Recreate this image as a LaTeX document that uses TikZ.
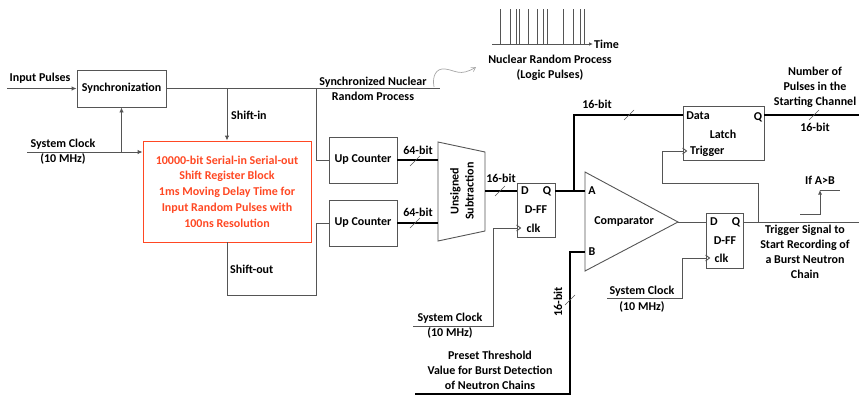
\documentclass[tikz,border=0pt]{standalone}
\usepackage{fontspec}
\setmainfont{Carlito}
\usetikzlibrary{arrows.meta,calc}
\definecolor{ln}{RGB}{85,85,85}
\definecolor{srred}{RGB}{255,72,35}
\begin{document}
\begin{tikzpicture}[x=1pt,y=-1pt,
 every node/.style={font=\bfseries\fontsize{12}{15}\selectfont, inner sep=0pt, text=black},
 blk/.style={draw=ln, line width=0.9pt, inner sep=0pt},
 wire/.style={draw=ln, line width=0.9pt},
 bus/.style={draw=black, line width=2.6pt, line join=miter},
 arr/.style={-{Latex[length=5pt,width=4.5pt]}},
 slash/.style={draw=ln, line width=0.6pt},
 lbl/.style={align=center}
]
\useasboundingbox (0,0) rectangle (859,397);

% boxes
\node[blk, minimum width=89pt, minimum height=37pt] (sync) at (121.5,88.5) {Synchronization};
\node[blk, draw=srred, text=srred, minimum width=168pt, minimum height=101pt, align=center,
  font=\bfseries\fontsize{12}{15.75}\selectfont] (sr) at (227,191.5)
  {10000-bit Serial-in Serial-out\\Shift Register Block\\1ms Moving Delay Time for\\Input Random Pulses with\\100ns Resolution};
\node[blk, minimum width=68pt, minimum height=46pt] (uc1) at (363,160) {Up Counter};
\node[blk, minimum width=68pt, minimum height=46pt] (uc2) at (363,223) {Up Counter};

% subtraction trapezoid
\coordinate (s1) at (438,142);
\coordinate (s2) at (485,152);
\coordinate (s3) at (485,231);
\coordinate (s4) at (438,241);
\draw[wire] (s1)--(s2)--(s3)--(s4)--cycle;
\node[rotate=90, lbl] (subt) at (462,191) {Unsigned\\Subtraction};
\coordinate (subout) at (485,191);

% D-FF 1
\node[blk, minimum width=38pt, minimum height=54pt] (ff1) at (536,210) {};
\node (ff1d) at (525,191) {D};
\node (ff1q) at (547,191) {Q};
\node (ff1n) at (536,210) {D-FF};
\node (ff1c) at (533.5,228) {clk};
\coordinate (ff1clk) at ($(ff1.west)+(0,18)$);
\draw[wire] ($(ff1clk)+(0,-3)$) -- ($(ff1clk)+(4,0)$) -- ($(ff1clk)+(0,3)$);

% comparator
\coordinate (c1) at (585,172);
\coordinate (c2) at (678,222);
\coordinate (c3) at (585,271);
\draw[wire] (c1)--(c2)--(c3)--cycle;
\node (cmp) at (624,222) {Comparator};
\node (ca) at (592,191) {A};
\node (cb) at (592,252) {B};
\coordinate (ina) at (585,191);
\coordinate (inb) at (585,252);

% D-FF 2
\node[blk, minimum width=37pt, minimum height=55pt] (ff2) at (724.5,240.5) {};
\node (ff2d) at (714,222) {D};
\node (ff2q) at (736,222) {Q};
\node (ff2n) at (725,241) {D-FF};
\node (ff2c) at (721.5,258) {clk};
\coordinate (ff2clk) at ($(ff2.west)+(0,17.5)$);
\draw[wire] ($(ff2clk)+(0,-3)$) -- ($(ff2clk)+(4,0)$) -- ($(ff2clk)+(0,3)$);

% Latch
\node[blk, minimum width=81pt, minimum height=54pt] (latch) at (723.5,133) {};
\node (ld) at (698,116) {Data};
\node (lq) at (758,117) {Q};
\node (ll) at (723,134) {Latch};
\node[anchor=west] (lt) at (690,151) {Trigger};
\coordinate (ltrig) at ($(latch.west)+(0,18)$);
\draw[wire] ($(ltrig)+(0,-3)$) -- ($(ltrig)+(4,0)$) -- ($(ltrig)+(0,3)$);

% coordinates for free ends / junctions
\coordinate (inp) at (7,88.5);
\coordinate (clk) at (27,152);
\coordinate (clkbr) at (121.5,152);
\coordinate (syncend) at (440,88.5);
\coordinate (shin) at (227,88.5);
\coordinate (ucbr) at (316,88.5);
\coordinate (sob) at (227,295);
\coordinate (qj) at (574,191);
\coordinate (qout) at (859,222);
\coordinate (trj) at (758,222);
\coordinate (lqout) at (859,115);
\coordinate (thr) at (415,394);
\coordinate (ck1) at (413,326);
\coordinate (ck2) at (607,298);

% wires
\draw[wire, arr] (inp) -- (sync.west);
\draw[wire] (sync.east) -- (syncend);
\draw[wire, arr] (shin) -- (sr.north);
\draw[wire, arr] (clk) -- (clk -| sr.west);
\draw[wire, arr] (clkbr) -- (sync.south);
\draw[wire] (ucbr) |- (uc1.west);
\draw[wire] (sr.south) -- (sob) -| (316,223) -- (uc2.west);
\draw[wire] (ff1clk) -- (493,228) -- (493,326) -- (ck1);
\draw[wire] (c2) -- (c2 -| ff2.west);
\draw[wire] (ff2clk) -- (682,258) -- (682,298) -- (ck2);
\draw[wire] (ff2.east |- qout) -- (qout);
\draw[wire] (trj) -- (758,183) -- (662,183) -- (662,151) -- (ltrig);

% buses
\draw[bus] (uc1.east) -- (uc1.east -| s1);
\draw[bus] (uc2.east) -- (uc2.east -| s1);
\draw[bus] (subout) -- (subout -| ff1.west);
\draw[bus] (ff1.east |- ina) -- (ina);
\draw[bus] (qj) -- (574,115) -- (latch.west |- 0,115);
\draw[bus] (latch.east |- lqout) -- (lqout);
\draw[bus] (thr) -- (570,394) -- (570,252) -- (inb);

% slashes
\foreach \p in {(415,161),(415,223),(500,191),(629,115),(814,115),(570,300)}
  \draw[slash] \p ++(-5,5) -- ++(10,-10);

% labels
\node (tinp) at (40,78) {Input Pulses};
\node (tclk) at (63,144) {System Clock};
\node (tclkf) at (63,159) {(10 MHz)};
\node[anchor=west] (tshin) at (231,115) {Shift-in};
\node[anchor=west] (tshout) at (230,269) {Shift-out};
\node[lbl] (tsnrp) at (373,88.5) {Synchronized Nuclear\\Random Process};
\node (t64a) at (418,150) {64-bit};
\node (t64b) at (418,212) {64-bit};
\node (t16a) at (501,178) {16-bit};
\node (t16b) at (597,104) {16-bit};
\node[lbl] (tnum) at (815,87) {Number of\\Pulses in the\\Starting Channel};
\node (t16c) at (815,127) {16-bit};
\node (tifab) at (820,180) {If A>B};
\node[lbl] (ttrig) at (805,251.5) {Trigger Signal to\\Start Recording of\\a Burst Neutron\\Chain};
\node (tsc1) at (450,318) {System Clock};
\node (tsc1f) at (450,333) {(10 MHz)};
\node (tsc2) at (642,291) {System Clock};
\node (tsc2f) at (642,307) {(10 MHz)};
\node[lbl] (tpre) at (490,370) {Preset Threshold\\Value for Burst Detection\\of Neutron Chains};
\node[rotate=90] (t16d) at (558,302) {16-bit};
\node[lbl] (tnrp) at (550,68) {Nuclear Random Process\\(Logic Pulses)};
\node[anchor=west] (ttime) at (594,44) {Time};

% step waveform
\draw[wire, line width=0.8pt, -{Latex[length=4.5pt,width=4pt]}] (800,214) -- (820,214) -- (820,190);
\draw[wire, line width=0.8pt] (820,190) -- (840,190);

% pulse train
\draw[wire, line width=0.8pt, -{Latex[length=4pt,width=3.5pt]}] (492,44) -- (593,44);
\foreach \x in {500,510,516,519,528,537,543,547,563,573,580,584}
  \draw[wire, line width=0.8pt] (\x,44) -- (\x,9);

% curvy arrow
\draw[draw=gray!70, line width=0.7pt, -{Straight Barb[length=4pt,width=5pt]}]
  (434,87) .. controls (432,76) and (436,68) .. (445,69) .. controls (455,70) and (460,77) .. (476,67);
\end{tikzpicture}
\end{document}
